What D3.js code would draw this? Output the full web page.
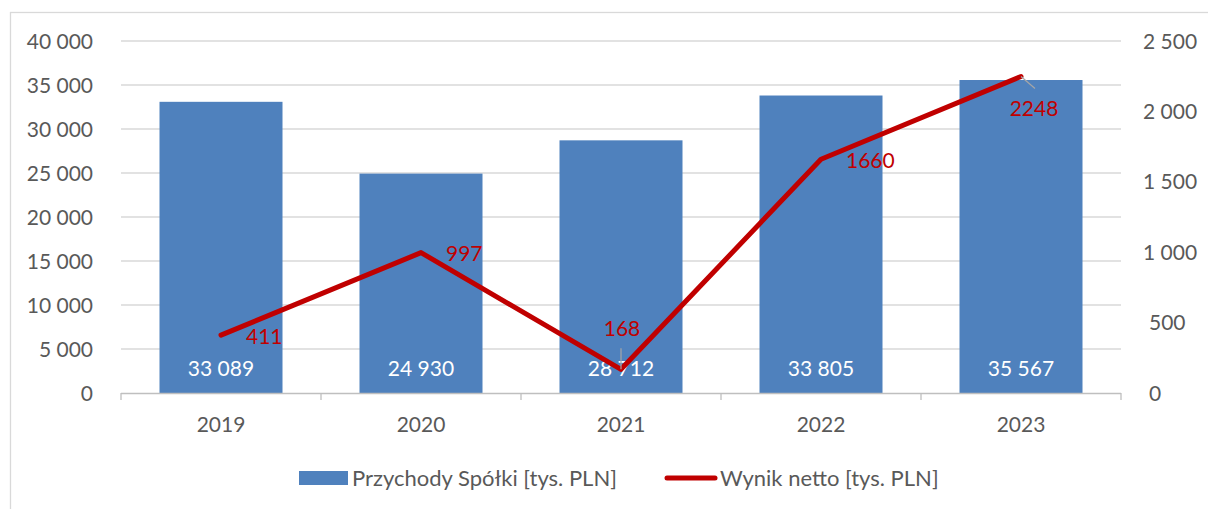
<!DOCTYPE html>
<meta charset="utf-8">
<head>
  <title>Przychody i wynik netto 2019-2023</title>
  <style>
    body { margin: 0; background: #fff; }
    svg { display: block; font-family: Lato, "Open Sans", sans-serif; }
    .tick-label { font-size: 21px; fill: #595959; }
    .grid line { stroke: #d9d9d9; stroke-width: 1.3; }
    .bar { fill: #4f81bd; }
    .bar-label { font-size: 21px; fill: #fff; text-anchor: middle; }
    .line-label { font-size: 21px; fill: #c00000; }
    .leader { stroke: #a6a6a6; stroke-width: 1.2; }
    .legend text { font-size: 22px; fill: #595959; }
  </style>
</head>
<body>
<script src="https://cdn.jsdelivr.net/npm/d3@7"></script>
<script>

// data
var years = ["2019", "2020", "2021", "2022", "2023"];
var revenue = [33089, 24930, 28712, 33805, 35567];
var netIncome = [411, 997, 168, 1660, 2248];
var leftTicks = [0, 5000, 10000, 15000, 20000, 25000, 30000, 35000, 40000];
var rightTicks = [0, 500, 1000, 1500, 2000, 2500];
var seriesNames = ["Przychody Spółki [tys. PLN]", "Wynik netto [tys. PLN]"];
// where each net result label sits relative to its point
var labelPlace = ["right", "right", "above", "right", "below"];

var W = 1208, H = 509;
var plot = {left: 121, right: 1121, top: 41, bottom: 393};

var fmt = d3.formatLocale({decimal: ",", thousands: "\u00a0", grouping: [3], currency: ["", ""]}).format(",");

var svg = d3.select("body").append("svg")
    .attr("width", W)
    .attr("height", H);

// outer chart frame (right/bottom edges fall outside the picture)
svg.append("rect")
    .attr("x", 10.5).attr("y", 12.5)
    .attr("width", W + 20).attr("height", H + 20)
    .attr("fill", "none")
    .attr("stroke", "#d9d9d9")
    .attr("stroke-width", 1.3);

var x = d3.scaleBand()
    .domain(years)
    .range([plot.left, plot.right])
    .paddingInner(0.385)
    .paddingOuter(0.1925);

var y = d3.scaleLinear().domain([0, 40000]).range([plot.bottom, plot.top]);
var y2 = d3.scaleLinear().domain([0, 2500]).range([plot.bottom, plot.top]);

// gridlines
svg.append("g").attr("class", "grid")
  .selectAll("line")
  .data(leftTicks.filter(function(d) { return d > 0; }))
  .enter().append("line")
    .attr("x1", plot.left).attr("x2", plot.right)
    .attr("y1", function(d) { return y(d); })
    .attr("y2", function(d) { return y(d); });

// left axis labels
svg.append("g")
  .selectAll("text")
  .data(leftTicks)
  .enter().append("text")
    .attr("class", "tick-label")
    .attr("x", 93)
    .attr("y", function(d) { return y(d); })
    .attr("dy", "0.36em")
    .attr("text-anchor", "end")
    .text(function(d) { return fmt(d); });

// right axis labels
svg.append("g")
  .selectAll("text")
  .data(rightTicks)
  .enter().append("text")
    .attr("class", "tick-label")
    .attr("x", function(d) { return d < 1000 ? 1149 : 1143; })
    .attr("y", function(d) { return y2(d); })
    .attr("dy", "0.36em")
    .text(function(d) { return fmt(d); });

// bars
svg.append("g")
  .selectAll("rect")
  .data(years)
  .enter().append("rect")
    .attr("class", "bar")
    .attr("x", function(d) { return x(d); })
    .attr("width", x.bandwidth())
    .attr("y", function(d, i) { return y(revenue[i]); })
    .attr("height", function(d, i) { return plot.bottom - y(revenue[i]); });

// x axis line and category ticks
var step = x.step();
svg.append("line")
    .attr("x1", plot.left).attr("x2", plot.right)
    .attr("y1", plot.bottom + 0.5).attr("y2", plot.bottom + 0.5)
    .attr("stroke", "#bfbfbf").attr("stroke-width", 1.3);
svg.append("g")
  .selectAll("line")
  .data(d3.range(years.length + 1))
  .enter().append("line")
    .attr("x1", function(i) { return plot.left + i * step; })
    .attr("x2", function(i) { return plot.left + i * step; })
    .attr("y1", plot.bottom).attr("y2", plot.bottom + 7)
    .attr("stroke", "#bfbfbf").attr("stroke-width", 1.3);

svg.append("g")
  .selectAll("text")
  .data(years)
  .enter().append("text")
    .attr("class", "tick-label")
    .attr("x", function(d) { return x(d) + x.bandwidth() / 2; })
    .attr("y", 424)
    .attr("dy", "0.36em")
    .attr("text-anchor", "middle")
    .text(function(d) { return d; });

// bar value labels
svg.append("g")
  .selectAll("text")
  .data(years)
  .enter().append("text")
    .attr("class", "bar-label")
    .attr("x", function(d) { return x(d) + x.bandwidth() / 2; })
    .attr("y", 368)
    .attr("dy", "0.36em")
    .text(function(d, i) { return fmt(revenue[i]); });

// net result line
var cx = function(i) { return x(years[i]) + x.bandwidth() / 2; };
var line = d3.line()
    .x(function(d, i) { return cx(i); })
    .y(function(d) { return y2(d); });

svg.append("path")
    .datum(netIncome)
    .attr("d", line)
    .attr("fill", "none")
    .attr("stroke", "#c00000")
    .attr("stroke-width", 5)
    .attr("stroke-linejoin", "round")
    .attr("stroke-linecap", "round");

// net result labels
var lbl = svg.append("g");
netIncome.forEach(function(v, i) {
  var px = cx(i), py = y2(v);
  var t = lbl.append("text").attr("class", "line-label").attr("dy", "0.36em").text(v);
  if (labelPlace[i] == "right") {
    t.attr("x", px + 25).attr("y", py + 1);
  } else if (labelPlace[i] == "above") {
    t.attr("x", px + 1).attr("y", py - 41).attr("text-anchor", "middle");
    lbl.append("line").attr("class", "leader")
        .attr("x1", px).attr("x2", px).attr("y1", py - 21).attr("y2", py);
  } else {
    t.attr("x", px + 13).attr("y", py + 32).attr("text-anchor", "middle");
    lbl.append("line").attr("class", "leader")
        .attr("x1", px).attr("y1", py).attr("x2", px + 14).attr("y2", py + 12);
  }
});

// legend
var legend = svg.append("g").attr("class", "legend");
legend.append("rect")
    .attr("x", 299).attr("y", 471)
    .attr("width", 49).attr("height", 14)
    .attr("fill", "#4f81bd");
legend.append("text")
    .attr("x", 352).attr("y", 478).attr("dy", "0.36em")
    .text(seriesNames[0]);
legend.append("line")
    .attr("x1", 667).attr("x2", 715)
    .attr("y1", 478).attr("y2", 478)
    .attr("stroke", "#c00000").attr("stroke-width", 5)
    .attr("stroke-linecap", "round");
legend.append("text")
    .attr("x", 720).attr("y", 478).attr("dy", "0.36em")
    .text(seriesNames[1]);

</script>
</body>
